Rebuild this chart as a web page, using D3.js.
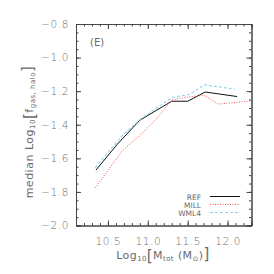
<!DOCTYPE html>
<html>
<head>
<meta charset="utf-8">
<script src="https://cdn.jsdelivr.net/npm/d3@7"></script>
<style>
  body { margin: 0; background: #fff; }
  text { font-family: "DejaVu Sans", sans-serif; fill: #6a6a6a; }
</style>
</head>
<body>
<svg id="chart" width="274" height="274"></svg>
<script>
// median gas fraction vs halo mass, panel E
var massRef  = [10.35, 10.62, 10.9, 11.3, 11.5, 11.72, 12.12];
var fgasRef  = [-1.67, -1.515, -1.373, -1.26, -1.26, -1.205, -1.232];
var massMill = [10.34, 10.68, 10.9, 11.1, 11.3, 11.5, 11.7, 11.88, 12.3];
var fgasMill = [-1.777, -1.555, -1.463, -1.37, -1.252, -1.235, -1.224, -1.277, -1.258];
var massWml  = [10.34, 10.68, 10.9, 11.3, 11.52, 11.71, 12.09];
var fgasWml  = [-1.656, -1.465, -1.37, -1.238, -1.22, -1.162, -1.188];

var series = [
  {name: "REF",  x: massRef,  y: fgasRef,  color: "#111",    dash: null,  w: 1},
  {name: "MILL", x: massMill, y: fgasMill, color: "#f55",    dash: "1,1.5", w: 1},
  {name: "WML4", x: massWml,  y: fgasWml,  color: "#8fd3f0", dash: "3,2", w: 1.1}
];

var xTicks = [10.5, 11.0, 11.5, 12.0];
var yTicks = [-0.8, -1.0, -1.2, -1.4, -1.6, -1.8, -2.0];

var svg = d3.select("#chart");
var L = 76, R = 251.5, T = 24, B = 225.5;

var x = d3.scaleLinear().domain([10.1, 12.3]).range([L, R]);
var y = d3.scaleLinear().domain([-2.0, -0.8]).range([B, T]);

var fmt = function(d){ return (d < 0 ? "\u2212" : "") + Math.abs(d).toFixed(1); };

// ticks inward on all four sides
var xMinor = d3.range(10.2, 12.3, 0.1).map(function(d){ return +d.toFixed(2); });
var yMinor = d3.range(-1.95, -0.8, 0.05).map(function(d){ return +d.toFixed(2); });

function drawAxis(axis, tr){
  var g = svg.append("g").attr("transform", tr).call(axis);
  g.select(".domain").attr("stroke", "#444").attr("stroke-width", 1);
  g.selectAll(".tick line").attr("stroke", "#444");
  return g;
}

drawAxis(d3.axisBottom(x).tickValues(xMinor).tickSize(-2.5).tickFormat(""), "translate(0," + B + ")");
drawAxis(d3.axisTop(x).tickValues(xMinor).tickSize(-2.5).tickFormat(""), "translate(0," + T + ")");
drawAxis(d3.axisLeft(y).tickValues(yMinor).tickSize(-2.5).tickFormat(""), "translate(" + L + ",0)");
drawAxis(d3.axisRight(y).tickValues(yMinor).tickSize(-2.5).tickFormat(""), "translate(" + R + ",0)");

var gx = drawAxis(d3.axisBottom(x).tickValues(xTicks).tickSize(-5).tickPadding(12).tickFormat(function(d){ return d.toFixed(1); }), "translate(0," + B + ")");
drawAxis(d3.axisTop(x).tickValues(xTicks).tickSize(-5).tickFormat(""), "translate(0," + T + ")");
var gy = drawAxis(d3.axisLeft(y).tickValues(yTicks).tickSize(-5).tickPadding(7).tickFormat(fmt), "translate(" + L + ",0)");
drawAxis(d3.axisRight(y).tickValues(yTicks).tickSize(-5).tickFormat(""), "translate(" + R + ",0)");

[gx, gy].forEach(function(g){
  g.selectAll(".tick text")
    .attr("font-size", 10.5)
    .attr("fill", "#6a6a6a")
    .attr("font-family", "DejaVu Sans")
    .attr("font-weight", 300)
    .attr("letter-spacing", 0.6);
});

// lines
var line = d3.line()
  .x(function(d){ return x(d[0]); })
  .y(function(d){ return y(d[1]); });

series.forEach(function(s){
  svg.append("path")
    .datum(d3.zip(s.x, s.y))
    .attr("d", line)
    .attr("fill", "none")
    .attr("stroke", s.color)
    .attr("stroke-width", s.w)
    .attr("stroke-dasharray", s.dash);
});

// legend
var leg = svg.append("g").attr("transform", "translate(0,196.5)");
series.forEach(function(s, i){
  var gy0 = i * 8;
  leg.append("text")
    .attr("x", 201).attr("y", gy0 + 3)
    .attr("text-anchor", "end")
    .attr("font-size", 7.5)
    .text(s.name);
  leg.append("line")
    .attr("x1", 210).attr("x2", 240)
    .attr("y1", gy0).attr("y2", gy0)
    .attr("stroke", s.color)
    .attr("stroke-width", s.w)
    .attr("stroke-dasharray", s.dash);
});

// panel label
svg.append("text").attr("x", 90).attr("y", 46).attr("font-size", 10).text("(E)");

// x title
var xt = svg.append("text").attr("x", 163).attr("y", 259).attr("text-anchor", "middle")
  .attr("font-size", 11).attr("letter-spacing", 0.4);
xt.append("tspan").text("Log");
xt.append("tspan").attr("font-size", 7).attr("dy", 2).text("10");
xt.append("tspan").attr("font-size", 15).attr("dy", -0.5).text("[");
xt.append("tspan").attr("dy", -1.5).text("M");
xt.append("tspan").attr("font-size", 7).attr("dy", 2).text("tot");
xt.append("tspan").attr("dy", -2).text(" (M");
xt.append("tspan").attr("font-size", 7).attr("dy", 2).text("\u2299");
xt.append("tspan").attr("dy", -2).text(")");
xt.append("tspan").attr("font-size", 15).text("]");

// y title
var yt = svg.append("text")
  .attr("transform", "translate(33,132) rotate(-90)")
  .attr("text-anchor", "middle")
  .attr("font-size", 11)
  .attr("letter-spacing", 0.5);
yt.append("tspan").text("median Log");
yt.append("tspan").attr("font-size", 7).attr("dy", 2).text("10");
yt.append("tspan").attr("font-size", 15).attr("dy", -0.5).text("[");
yt.append("tspan").attr("dy", -1.5).text("f");
yt.append("tspan").attr("font-size", 7).attr("dy", 2).text("gas, halo");
yt.append("tspan").attr("font-size", 15).attr("dy", -2).text("]");
</script>
</body>
</html>
